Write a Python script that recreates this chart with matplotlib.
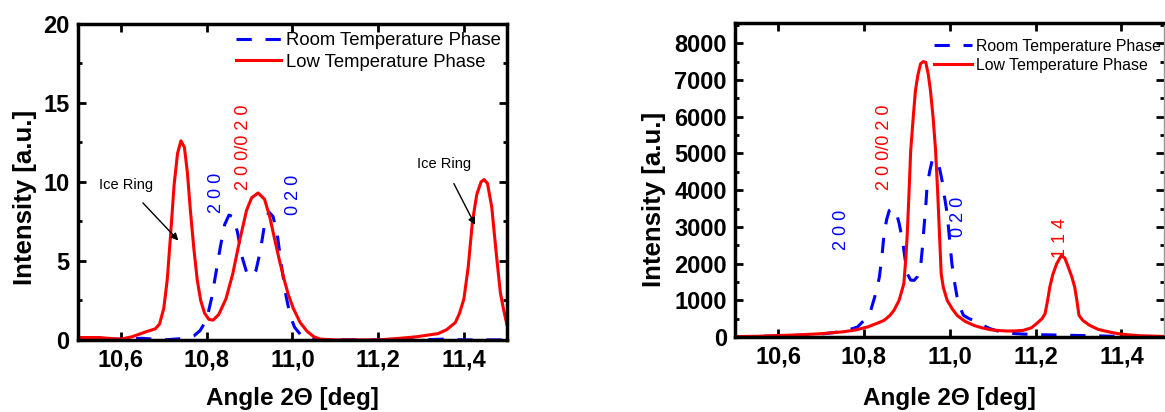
import matplotlib.pyplot as plt
from matplotlib.ticker import MultipleLocator

plt.rcParams['font.family'] = ['Liberation Sans', 'DejaVu Sans']

# ---- left panel: weak reflections + ice rings ----
left_low_x = [10.50, 10.55, 10.58, 10.60, 10.626, 10.657, 10.68, 10.69, 10.70, 10.708,
              10.716, 10.724, 10.732, 10.740, 10.748, 10.755, 10.762, 10.770, 10.778, 10.786,
              10.795, 10.805, 10.815, 10.828, 10.845, 10.861, 10.877, 10.893, 10.905, 10.92,
              10.935, 10.947, 10.96, 10.97, 10.98, 10.99, 11.002, 11.018, 11.034, 11.05,
              11.065, 11.10, 11.20, 11.25, 11.29, 11.34, 11.36, 11.38, 11.39, 11.40,
              11.41, 11.42, 11.43, 11.44, 11.447, 11.455, 11.465, 11.475, 11.485, 11.492, 11.50]
left_low_y = [0.15, 0.15, 0.08, 0.05, 0.2, 0.5, 0.7, 1.0, 2.0, 3.8,
              6.7, 9.8, 11.8, 12.6, 12.2, 10.6, 8.2, 5.8, 3.8, 2.5,
              1.7, 1.3, 1.25, 1.6, 2.6, 4.2, 6.3, 8.2, 9.0, 9.3,
              8.9, 7.8, 6.2, 5.0, 3.9, 2.9, 2.0, 1.1, 0.55, 0.2,
              0.05, 0.0, 0.0, 0.1, 0.2, 0.4, 0.65, 1.1, 1.7, 2.6,
              4.6, 7.5, 9.2, 10.0, 10.15, 9.9, 8.4, 5.6, 3.0, 2.0, 1.0]

left_room_x = [10.50, 10.60, 10.65, 10.70, 10.75, 10.77, 10.785, 10.80, 10.812, 10.822,
               10.832, 10.842, 10.852, 10.862, 10.872, 10.882, 10.893, 10.905, 10.915, 10.925,
               10.935, 10.945, 10.955, 10.965, 10.975, 10.985, 10.995, 11.005, 11.02, 11.035,
               11.10, 11.30, 11.35, 11.40, 11.50]
left_room_y = [0.05, 0.05, 0.1, 0.0, 0.1, 0.25, 0.6, 1.3, 2.7, 4.3,
               5.9, 7.3, 7.9, 7.8, 6.8, 5.3, 4.3, 4.0, 4.4, 5.6,
               7.3, 8.1, 7.8, 6.6, 4.6, 2.8, 1.5, 0.8, 0.3, 0.05,
               0.0, 0.0, 0.05, 0.0, 0.0]

# ---- right panel: strong reflections ----
right_low_x = [10.50, 10.55, 10.60, 10.65, 10.70, 10.75, 10.78, 10.808, 10.83, 10.847,
               10.86, 10.87, 10.882, 10.893, 10.898, 10.901, 10.905, 10.909, 10.915, 10.92,
               10.926, 10.932, 10.938, 10.944, 10.95, 10.955, 10.961, 10.967, 10.972, 10.976,
               10.98, 10.985, 10.994, 11.005, 11.017, 11.035, 11.056, 11.075, 11.094, 11.115,
               11.133, 11.15, 11.171, 11.19, 11.202, 11.215, 11.222, 11.228, 11.233, 11.24,
               11.249, 11.26, 11.268, 11.276, 11.284, 11.291, 11.296, 11.301, 11.31, 11.326,
               11.345, 11.365, 11.385, 11.403, 11.442, 11.50]
right_low_y = [10, 20, 40, 60, 90, 140, 190, 272, 370, 454,
               580, 726, 1000, 1451, 2200, 2812, 3900, 5079, 6000, 6712,
               7150, 7440, 7500, 7483, 7150, 6712, 6000, 5079, 3900, 2812,
               1723, 1350, 998, 780, 590, 430, 317, 250, 200, 175,
               163, 165, 181, 250, 363, 500, 635, 1000, 1361, 1700,
               1995, 2222, 2150, 1905, 1650, 1361, 1000, 590, 450, 317,
               210, 154, 105, 73, 36, 15]

right_room_x = [10.50, 10.55, 10.60, 10.65, 10.70, 10.73, 10.76, 10.785, 10.80, 10.816,
                10.824, 10.83, 10.836, 10.842, 10.847, 10.853, 10.859, 10.866, 10.874, 10.882,
                10.89, 10.895, 10.901, 10.909, 10.917, 10.925, 10.932, 10.936, 10.94, 10.944,
                10.947, 10.953, 10.959, 10.965, 10.971, 10.977, 10.982, 10.988, 10.994, 11.0,
                11.005, 11.011, 11.017, 11.024, 11.032, 11.045, 11.056, 11.075, 11.094, 11.115,
                11.133, 11.17, 11.21, 11.287, 11.35, 11.45, 11.50]
right_room_y = [0, 20, 30, 50, 80, 120, 180, 272, 450, 726,
                1043, 1300, 1633, 2200, 2812, 3200, 3447, 3500, 3447, 3100,
                2630, 2200, 1723, 1550, 1542, 1650, 1905, 2400, 2993, 3550,
                4082, 4500, 4807, 4850, 4807, 4550, 4263, 3800, 3356, 2600,
                1995, 1500, 1088, 800, 590, 500, 454, 330, 227, 150,
                109, 80, 63, 45, 30, 0, 0]

xticks = [10.6, 10.8, 11.0, 11.2, 11.4]
xtick_labels = ['10,6', '10,8', '11,0', '11,2', '11,4']
left_yticks = [0, 5, 10, 15, 20]
right_yticks = [0, 1000, 2000, 3000, 4000, 5000, 6000, 7000, 8000]

# peak labels: (text, x, y, colour)
left_peaks = [('2 0 0', 10.822, 9.3, 'blue'),
              ('2 0 0/0 2 0', 10.885, 12.2, 'red'),
              ('0 2 0', 11.002, 9.2, 'blue')]
right_peaks = [('2 0 0', 10.747, 2930, 'blue'),
               ('2 0 0/0 2 0', 10.847, 5170, 'red'),
               ('0 2 0', 11.021, 3265, 'blue'),
               ('1 1 4', 11.258, 2700, 'red')]

RED = '#ff0000'
BLUE = '#0000ff'
DASH = (0, (5, 4.5))

fig = plt.figure(figsize=(11.65, 4.12), dpi=100)
ax1 = fig.add_axes([0.067, 0.175, 0.368, 0.767])
ax2 = fig.add_axes([0.631, 0.182, 0.3685, 0.762])


def style_axes(ax, yticks, ymax, yminor):
    ax.set_xlim(10.5, 11.5)
    ax.set_ylim(0, ymax)
    ax.set_xticks(xticks)
    ax.set_xticklabels(xtick_labels)
    ax.set_yticks(yticks)
    ax.yaxis.set_minor_locator(MultipleLocator(yminor))
    ax.tick_params(which='both', direction='in', top=True, right=True,
                   width=2, labelsize=17, pad=6)
    ax.tick_params(which='major', length=6)
    ax.tick_params(which='minor', length=3)
    for lab in ax.get_xticklabels() + ax.get_yticklabels():
        lab.set_fontweight('bold')
    for s in ax.spines.values():
        s.set_linewidth(2.5)
    ax.set_xlabel('Angle 2Θ [deg]', fontsize=17.5, fontweight='bold')
    ax.set_ylabel('Intensity [a.u.]', fontsize=18.5, fontweight='bold')


# left
ax1.plot(left_room_x, left_room_y, color=BLUE, lw=2.2, ls=DASH, label='Room Temperature Phase')
ax1.plot(left_low_x, left_low_y, color=RED, lw=2.2, label='Low Temperature Phase')
style_axes(ax1, left_yticks, 20, 2.5)
ax1.xaxis.set_label_coords(0.5, -0.15)
ax1.yaxis.set_label_coords(-0.095, 0.45)
for txt, x, y, c in left_peaks:
    ax1.text(x, y, txt, color=c, rotation=90, fontsize=13, ha='center', va='center')
ax1.annotate('Ice Ring', xy=(10.734, 6.29), xytext=(10.612, 9.8), fontsize=10.5,
             ha='center', va='center',
             arrowprops=dict(arrowstyle='-|>', color='black', lw=1, shrinkA=8, shrinkB=0))
ax1.annotate('Ice Ring', xy=(11.426, 7.28), xytext=(11.353, 11.14), fontsize=10.5,
             ha='center', va='center',
             arrowprops=dict(arrowstyle='-|>', color='black', lw=1, shrinkA=8, shrinkB=0))
ax1.legend(loc='upper right', bbox_to_anchor=(0.995, 0.985), frameon=False, fontsize=13.3,
           handlelength=2.4, handletextpad=0.3, labelspacing=0.25, borderpad=0.1,
           borderaxespad=0.1)

# right
ax2.plot(right_room_x, right_room_y, color=BLUE, lw=2.2, ls=DASH, label='Room Temperature Phase')
ax2.plot(right_low_x, right_low_y, color=RED, lw=2.2, label='Low Temperature Phase')
style_axes(ax2, right_yticks, 8550, 500)
ax2.spines['right'].set_linewidth(1)
ax2.spines['right'].set_color('#999999')
ax2.xaxis.set_label_coords(0.5, -0.16)
ax2.yaxis.set_label_coords(-0.16, 0.44)
for txt, x, y, c in right_peaks:
    ax2.text(x, y, txt, color=c, rotation=90, fontsize=13, ha='center', va='center')
ax2.legend(loc='upper right', bbox_to_anchor=(1.0, 0.96), frameon=False, fontsize=11.4,
           handlelength=2.35, handletextpad=0.3, labelspacing=0.25, borderpad=0.1,
           borderaxespad=0.1)

fig.savefig('out.png', dpi=100)
